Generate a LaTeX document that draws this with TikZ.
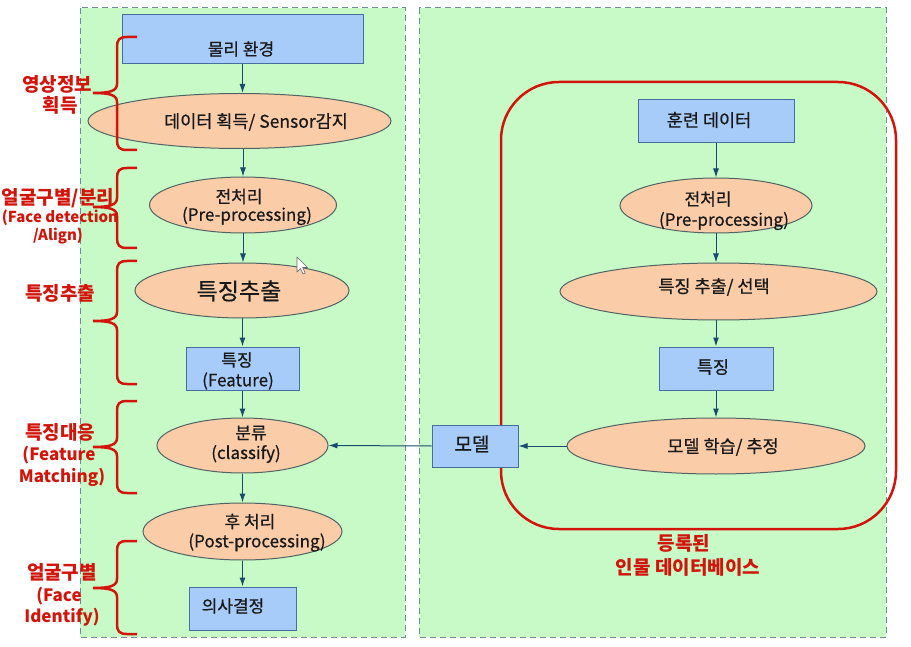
\documentclass[tikz,border=0pt]{standalone}
\usepackage{fontspec}
\setmainfont{Noto Sans CJK KR}
\newfontfamily\nodefont[FakeBold=0.6]{Noto Sans CJK KR}
\usetikzlibrary{shapes.geometric,arrows.meta}
\definecolor{panelg}{RGB}{200,250,200}
\definecolor{paneld}{RGB}{110,140,150}
\definecolor{boxb}{RGB}{168,204,250}
\definecolor{boxbd}{RGB}{70,110,160}
\definecolor{ellf}{RGB}{250,204,168}
\definecolor{elld}{RGB}{80,100,100}
\definecolor{arrc}{RGB}{25,75,110}
\definecolor{redl}{RGB}{210,20,10}
\definecolor{txtc}{RGB}{25,25,25}
\newcommand\redbrace[3]{%
 \draw[brc] (137,#1) -- (127,#1) .. controls (119,#1) and (117,#1+3) .. (117,#1+10)
   -- (117,#2-9) .. controls (117,#2-2) and (110,#2) .. (93,#2)
   .. controls (110,#2) and (117,#2+2) .. (117,#2+9)
   -- (117,#3-10) .. controls (117,#3-3) and (119,#3) .. (127,#3) -- (137,#3);}
\begin{document}
\begin{tikzpicture}[x=1pt,y=-1pt,
 panel/.style={draw=paneld, fill=panelg, dash pattern=on 6pt off 4pt, line width=1pt},
 bbox/.style={draw=boxbd, fill=boxb, line width=1pt, inner sep=0pt},
 ell/.style={ellipse, draw=elld, fill=ellf, line width=1pt, inner sep=0pt},
 txt/.style={text=txtc, font=\nodefont\fontsize{17}{20}\selectfont, inner sep=0pt},
 arr/.style={draw=arrc, line width=1pt, -{Latex[length=9pt,width=6pt]}},
 lab/.style={text=redl, font=\bfseries\fontsize{19}{21}\selectfont, inner sep=0pt},
 labl/.style={text=redl, font=\bfseries\fontsize{17}{19}\selectfont, inner sep=0pt},
 brc/.style={draw=redl, line width=2.5pt},
]
\useasboundingbox (0,0) rectangle (911,647);
\fill[white] (0,0) rectangle (911,647);
% panels
\draw[panel] (80,8) rectangle (405,637);
\draw[panel] (419,8) rectangle (886,637);
% red database boundary
\draw[draw=redl, line width=2.5pt, rounded corners=58pt] (501,82) rectangle (896,529);

% left column shapes
\node[bbox, minimum width=241pt, minimum height=49pt] (phys) at (242.5,39.5) {};
\node[ell, minimum width=303pt, minimum height=55pt] (acq) at (239.5,121) {};
\node[ell, minimum width=187pt, minimum height=56pt] (pre) at (243,205) {};
\node[ell, minimum width=214pt, minimum height=55pt] (fex) at (242,290.5) {};
\node[bbox, minimum width=113pt, minimum height=43pt] (feat) at (242.5,368.5) {};
\node[ell, minimum width=171pt, minimum height=55pt] (cls) at (242.5,445.5) {};
\node[ell, minimum width=199pt, minimum height=57pt] (post) at (242.5,531.5) {};
\node[bbox, minimum width=107pt, minimum height=43pt] (dec) at (242.5,608.5) {};

% right column shapes
\node[bbox, minimum width=156pt, minimum height=43pt] (train) at (716,121.5) {};
\node[ell, minimum width=192pt, minimum height=55pt] (rpre) at (716,205.5) {};
\node[ell, minimum width=317pt, minimum height=57pt] (rfex) at (718.5,291.5) {};
\node[bbox, minimum width=114pt, minimum height=43pt] (rfeat) at (716,368.5) {};
\node[ell, minimum width=298pt, minimum height=56pt] (learn) at (716,446) {};
\node[bbox, minimum width=86pt, minimum height=42pt] (model) at (475,446) {};

% texts
\node[txt] (tphys) at (241,49) {물리 환경};
\node[txt, font=\nodefont\fontsize{17.5}{20}\selectfont] (tacq) at (256,122) {데이터 획득/ Sensor감지};
\node[txt] (tpre1) at (239,196.5) {전처리};
\node[txt] (tpre2) at (247,216) {(Pre-processing)};
\node[txt, font=\nodefont\fontsize{23}{26}\selectfont] (tfex) at (239,291) {특징추출};
\node[txt] (tfeat1) at (237,360) {특징};
\node[txt] (tfeat2) at (238,381) {(Feature)};
\node[txt] (tcls1) at (251,433) {분류};
\node[txt] (tcls2) at (246,454) {(classify)};
\node[txt] (tpost1) at (250,521.5) {후 처리};
\node[txt] (tpost2) at (257,542.5) {(Post-processing)};
\node[txt] (tdec) at (233,606) {의사결정};

\node[txt, font=\nodefont\fontsize{17.5}{20}\selectfont] (ttrain) at (709,120) {훈련 데이터};
\node[txt] (trpre1) at (708,199) {전처리};
\node[txt] (trpre2) at (724,221) {(Pre-processing)};
\node[txt, font=\nodefont\fontsize{17.5}{20}\selectfont] (trfex) at (714,287) {특징 추출/ 선택};
\node[txt, font=\nodefont\fontsize{17.5}{20}\selectfont] (trfeat) at (713,367) {특징};
\node[txt, font=\nodefont\fontsize{17.5}{20}\selectfont] (tlearn) at (723,447) {모델 학습/ 추정};
\node[txt, font=\nodefont\fontsize{19}{22}\selectfont] (tmodel) at (472,444) {모델};

% arrows left
\draw[arr] (phys.south) -- (phys.south |- acq.north);
\draw[arr] (acq.south -| pre.north) -- (pre.north);
\draw[arr] (pre.south) -- (pre.south |- fex.north);
\draw[arr] (fex.south -| feat.north) -- (feat.north);
\draw[arr] (feat.south) -- (cls.north);
\draw[arr] (cls.south) -- (post.north);
\draw[arr] (post.south) -- (dec.north);
% arrows right
\draw[arr] (train.south) -- (rpre.north);
\draw[arr] (rpre.south) -- (rpre.south |- rfex.north);
\draw[arr] (rfex.south -| rfeat.north) -- (rfeat.north);
\draw[arr] (rfeat.south) -- (learn.north);
\draw[arr] (learn.west) -- (model.east);
\draw[arr] (model.west) -- (cls.east);

% red braces
\redbrace{37}{93}{150}
\redbrace{168}{207}{248}
\redbrace{261}{321}{384}
\redbrace{401}{447}{493}
\redbrace{541}{588}{634}

% red labels
\node[lab] (l1a) at (57,84) {영상정보};
\node[lab] (l1b) at (60,105) {획득};
\node[lab] (l2a) at (58,198) {얼굴구별/분리};
\node[labl, font=\bfseries\fontsize{15}{17}\selectfont] (l2b) at (60,218) {(Face detection};
\node[labl, font=\bfseries\fontsize{15}{17}\selectfont] (l2c) at (58,236) {/Align)};
\node[lab] (l3) at (60,293) {특징추출};
\node[lab] (l4a) at (60,432) {특징대응};
\node[labl] (l4b) at (59,455) {(Feature};
\node[labl] (l4c) at (62,477) {Matching)};
\node[lab] (l5a) at (62,572) {얼굴구별};
\node[labl] (l5b) at (59,596) {(Face};
\node[labl] (l5c) at (62,617) {Identify)};
\node[lab] (db1) at (684,543) {등록된};
\node[lab] (db2) at (688,567) {인물 데이터베이스};

% mouse cursor
\draw[fill=white, draw=black!60, line width=0.6pt, line join=round]
 (297,257) -- (297,272) -- (300.5,268.5) -- (303,274) -- (305.2,273) -- (302.7,267.5) -- (307.5,267.5) -- cycle;
\end{tikzpicture}
\end{document}
